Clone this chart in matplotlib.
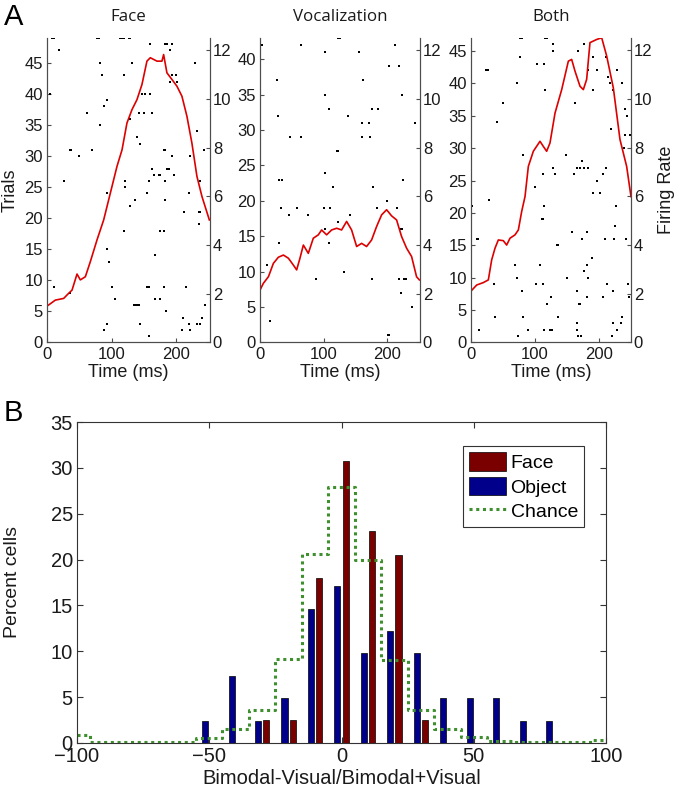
import matplotlib
matplotlib.use('Agg')
import matplotlib.pyplot as plt
import numpy as np

plt.rcParams['font.family'] = ['Liberation Sans', 'DejaVu Sans']

# ---------------- Panel A data ----------------
panel_titles = ['Face', 'Vocalization', 'Both']
n_trials = [49, 43, 47]
trial_ticks = [list(range(0, 50, 5)), list(range(0, 45, 5)), list(range(0, 50, 5))]
time_max = [252, 251, 250]

# firing rate curves (time ms, rate)
face_rate_t = [0, 2.5, 12.9, 25.8, 33.5, 38.7, 46.4, 51.5, 59.3, 67, 77.3, 87.6, 97.9, 108.2, 116,
               123.6, 131.4, 139.1, 146.8, 154.5, 159.7, 170, 177.7, 180.3, 185.4, 193.1, 200.9,
               208.6, 216.3, 224, 231.8, 239.5, 251]
face_rate = [1.5, 1.54, 1.74, 1.81, 2.02, 2.15, 2.81, 2.57, 2.7, 3.32, 4.21, 5.03, 6.13, 7.23, 7.91,
             9.01, 9.56, 9.97, 10.59, 11.55, 11.69, 11.55, 11.55, 11.82, 11.07, 10.8, 10.52,
             10.11, 9.29, 8.19, 6.82, 6.0, 5.03]

voc_rate_t = [0, 5.3, 13.2, 21, 28.8, 36.7, 44.5, 52.3, 57.5, 62.7, 68, 75.8, 83.6, 91.5, 96.7,
              104.5, 112.4, 120.2, 128, 135.9, 143.7, 151.6, 159.4, 167.2, 175.1, 182.9, 190.8,
              198.6, 206.4, 214.3, 222.1, 230, 237.8, 245.6, 250]
voc_rate = [2.15, 2.43, 2.7, 3.25, 3.5, 3.59, 3.46, 3.18, 2.98, 3.46, 4.0, 3.66, 4.28, 4.42, 4.62,
            4.42, 4.62, 4.69, 4.62, 4.97, 4.62, 3.94, 4.07, 3.94, 4.21, 4.76, 5.24,
            5.45, 5.2, 5.03, 4.35, 3.87, 3.53, 2.7, 2.57]

both_rate_t = [0, 8.9, 19.3, 27.1, 32.3, 37.5, 42.7, 50.5, 55.7, 60.9, 68.8, 74, 79.2, 84.4, 89.6,
               97.4, 107.8, 113, 118.2, 123.4, 131.3, 141.7, 152.1, 157.3, 162.5, 170.3, 175.5,
               180.7, 185.9, 196.4, 204.2, 212, 222.4, 232.8, 243.2, 250]
both_rate = [2.11, 2.36, 2.46, 2.57, 3.39, 3.87, 4.21, 4.18, 4.0, 4.28, 4.42, 4.62, 5.38, 5.99, 7.23,
             7.85, 8.26, 8.05, 7.85, 8.19, 9.42, 10.38, 11.55, 11.62, 11.14, 10.52, 10.38,
             10.8, 12.31, 12.44, 12.51, 11.76, 10.45, 8.33, 7.23, 5.99]

# spikes (time ms, trial)
face_spikes = [
    (7.7, 49), (10.3, 49), (77.2, 49), (79.8, 49), (113.4, 49), (116, 49), (119.6, 49), (126.2, 49), (128.8, 49),
    (159.7, 48), (183, 48), (185.6, 48), (193.1, 48), (18, 47), (190.7, 47),
    (82.4, 45), (131.4, 45), (229.2, 45), (85, 43), (118.5, 43), (193.1, 43), (199.8, 43),
    (190.7, 42), (201, 42), (5.1, 40), (146.8, 40), (152, 40), (159.7, 40), (92.7, 39), (87.6, 38),
    (61.8, 37), (141.6, 37), (149.4, 37), (162.3, 37), (128.8, 36), (82.4, 35), (231.8, 34),
    (139, 33), (144.2, 32), (36, 31), (37.5, 31), (69.5, 31), (180.3, 31), (183, 31), (242.1, 31),
    (49, 30), (193.1, 30), (221.5, 30), (162.3, 28), (185.4, 28), (188, 28),
    (164.8, 27), (172.6, 27), (175.1, 27), (195.7, 27), (25.7, 26), (121.1, 26), (157.1, 26), (183, 26), (237, 26),
    (121.1, 25), (92.7, 24), (154.5, 24), (219, 24), (136.5, 23), (183, 23), (128.8, 22),
    (211.2, 21), (234.4, 21), (236, 21), (234.4, 19), (118.5, 18), (175.1, 18), (180.3, 18),
    (92.7, 15), (167.4, 14), (95.3, 13), (100.4, 9), (154.5, 9), (157.1, 9), (180.3, 9), (214.9, 9),
    (11.3, 9), (36, 8), (104.4, 7), (167.4, 7), (175, 7), (134, 6), (136.5, 6), (139, 6), (141.6, 6),
    (244.6, 6), (184, 5), (210.2, 4), (239.5, 4), (92.7, 3), (144.2, 3), (219, 3), (231.8, 3), (237, 3),
    (87.6, 2), (208.6, 2), (221.5, 2), (157.1, 1),
]
voc_spikes = [
    (2.6, 42), (64.3, 42), (123, 43), (125, 43), (101.9, 41), (155.7, 41), (211.6, 42), (202.7, 39), (218.4, 39),
    (27.2, 37), (160.9, 37), (101.9, 35), (222, 35), (107.5, 33), (109, 33), (176, 33), (185.5, 33),
    (28.7, 32), (138.4, 32), (159.3, 31), (170.8, 31), (243, 31), (47, 29), (64.3, 29), (159.3, 29), (172.4, 29),
    (121.5, 27), (123, 27), (101.9, 24), (30.3, 23), (33.9, 23), (223.6, 23), (114.9, 22), (177.1, 22),
    (32.3, 19), (57.5, 19), (99.8, 19), (109.7, 19), (182.9, 19), (198.6, 20), (214.3, 19),
    (45.9, 18), (75.2, 18), (140.6, 18), (121.8, 17), (101.9, 16), (220.5, 16), (222.5, 16),
    (108.2, 14), (30.3, 14), (10.4, 11), (132.2, 10), (87.3, 9), (176, 9), (218.4, 9), (226.4, 9), (228.4, 9),
    (221.5, 7), (237.7, 5), (15.7, 3), (200.2, 1), (202.2, 1),
]
both_spikes = [
    (76.6, 47), (79, 47), (115.6, 47), (118.3, 47), (128.6, 46), (176.6, 46), (128.6, 45), (167.7, 45),
    (76.6, 44), (191.1, 44), (210.4, 44), (102.6, 43), (113.5, 43), (23.4, 42), (25.2, 42), (27.1, 42),
    (183.3, 42), (196.3, 42), (227.6, 42), (115.6, 39), (191.1, 39), (214.5, 41), (217.1, 40),
    (71.4, 40), (222.4, 39), (235.4, 40), (50.5, 37), (162.5, 37), (240.6, 36), (40.1, 34),
    (218.2, 33), (243.2, 35), (240.6, 32), (248.4, 32), (239.1, 30), (81.8, 29), (148.4, 29),
    (172.9, 28), (113, 26), (128.6, 27), (131.3, 26), (161.2, 26), (165.4, 27), (170.6, 27),
    (175.8, 27), (183.3, 27), (210.4, 27), (206.7, 26), (196.3, 25), (100, 24), (28.6, 22),
    (191.1, 23), (201.6, 23), (1, 21), (113.5, 21), (226.1, 21), (110.9, 19), (112.5, 19), (225, 18),
    (157.3, 17), (180.7, 17), (9.9, 16), (11.5, 16), (172.9, 16), (209.4, 16), (224, 16), (241.7, 16),
    (0.5, 14), (133.9, 15), (135.5, 15), (188.4, 13), (68.8, 12), (107.8, 12), (180.7, 12), (176.6, 11),
    (71.4, 10), (150.3, 10), (183.3, 10), (79.2, 8), (165.4, 8), (181.1, 7), (36, 9), (112, 9),
    (101.6, 9), (211.9, 9), (222.4, 8), (246, 9), (247, 7), (124.5, 7), (119.3, 6), (169, 6),
    (171, 6), (206.6, 7), (37.5, 4), (81.8, 4), (136.5, 4), (235.4, 4), (166.4, 3), (222.4, 3),
    (233.9, 3), (13, 2), (88.3, 2), (114.6, 2), (124, 2), (126, 2), (166.4, 2), (228.7, 2),
    (74.1, 1), (167.5, 1), (171.6, 1), (220, 1),
]

rate_t = [face_rate_t, voc_rate_t, both_rate_t]
rates = [face_rate, voc_rate, both_rate]
spikes = [face_spikes, voc_spikes, both_spikes]

# ---------------- Panel B data ----------------
bin_centers = [-50, -40, -30, -20, -10, 0, 10, 20, 30, 40, 50, 60, 70, 80]
face_pct = [0, 0, 2.56, 2.56, 17.95, 30.77, 23.08, 20.51, 2.56, 0, 0, 0, 0, 0]
object_pct = [2.44, 7.32, 2.44, 4.88, 14.63, 17.07, 9.76, 12.2, 9.76, 4.88, 4.88, 4.88, 2.44, 2.44]
chance_x = [-100, -90, -80, -70, -60, -50, -40, -30, -20, -10, 0, 10, 20, 30, 40, 50, 60, 70, 80, 90, 100]
chance_pct = [0.9, 0.1, 0.07, 0.07, 0.1, 0.55, 1.5, 3.6, 9.2, 20.6, 27.9, 20.0, 9.0, 3.6, 1.5, 0.6,
              0.25, 0.07, 0.07, 0.07, 0.3]

W, H = 677, 789
fig = plt.figure(figsize=(W / 100, H / 100), dpi=100)

def px_rect(left, top, right, bottom):
    return [left / W, 1 - bottom / H, (right - left) / W, (bottom - top) / H]

axis_col = '#4d4d4d'
text_col = '#1a1a1a'
lefts = [(47, 210), (260, 420), (471, 631)]

for i in range(3):
    ax = fig.add_axes(px_rect(lefts[i][0], 38, lefts[i][1], 342.5))
    st, str_ = zip(*spikes[i])
    ax.plot(st, str_, 's', ms=1.5, mew=0, color='k')
    ax.set_xlim(0, time_max[i])
    ax.set_ylim(0, n_trials[i])
    ax.set_yticks(trial_ticks[i])
    ax.set_xticks([0, 100, 200])
    ax.spines['top'].set_visible(False)
    for s in ax.spines.values():
        s.set_color(axis_col)
        s.set_linewidth(0.8)
    ax.tick_params(direction='in', length=3, labelsize=12, color=axis_col, labelcolor=text_col, pad=3)
    ax.set_xlabel('Time (ms)', fontsize=13, color=text_col, labelpad=2)
    ax.set_title(panel_titles[i], fontsize=12.2, family='Open Sans', color=text_col, pad=12)

    ax2 = ax.twinx()
    ax2.plot(rate_t[i], rates[i], color='#dd0000', lw=1.2)
    ax2.set_ylim(0, 12.5)
    ax2.set_yticks([0, 2, 4, 6, 8, 10, 12])
    ax2.spines['top'].set_visible(False)
    for s in ax2.spines.values():
        s.set_color(axis_col)
        s.set_linewidth(0.8)
    ax2.tick_params(direction='in', length=3, labelsize=12, color=axis_col, labelcolor=text_col, pad=2)
    if i == 0:
        ax.set_ylabel('Trials', fontsize=13, color=text_col, labelpad=4)
    if i == 2:
        ax2.set_ylabel('Firing Rate', fontsize=13, color=text_col, labelpad=4)

fig.text(14 / W, 1 - 17 / H, 'A', fontsize=21, ha='center', va='center', color='k')
fig.text(13 / W, 1 - 413 / H, 'B', fontsize=21, ha='center', va='center', color='k')

# ---------------- Panel B ----------------
axb = fig.add_axes(px_rect(77, 422, 606, 743))
bc = np.array(bin_centers)
h_face = axb.bar(bc + 1.55, face_pct, width=2.3, color='#7a0000', edgecolor='k', linewidth=0.5, label='Face')
h_obj = axb.bar(bc - 1.55, object_pct, width=2.3, color='#00008b', edgecolor='k', linewidth=0.5, label='Object')
h_ch, = axb.step(chance_x, chance_pct, where='mid', color='#3f8f2f', lw=2.2, linestyle=(0, (1, 1.2)),
                 label='Chance')
axb.set_xlim(-100, 100)
axb.set_ylim(0, 35)
axb.set_xticks([-100, -50, 0, 50, 100])
axb.set_yticks(range(0, 36, 5))
axb.tick_params(direction='in', length=4, labelsize=14.5, top=True, right=True,
                color='#333333', labelcolor=text_col, pad=3)
for s in axb.spines.values():
    s.set_color('#333333')
    s.set_linewidth(0.8)
axb.set_xlabel('Bimodal-Visual/Bimodal+Visual', fontsize=14.5, color=text_col, labelpad=2)
axb.set_ylabel('Percent cells', fontsize=14, color=text_col)
axb.yaxis.set_label_coords(-0.105, 0.5)
leg = axb.legend([h_face, h_obj, h_ch], ['Face', 'Object', 'Chance'],
                 loc='upper right', bbox_to_anchor=(0.958, 0.925), borderaxespad=0, fontsize=14,
                 handlelength=1.9, handleheight=1.1, labelspacing=0.25, borderpad=0.3,
                 handletextpad=0.25, fancybox=False, framealpha=1)
leg.get_frame().set_edgecolor('#333333')
leg.get_frame().set_linewidth(0.8)

fig.savefig('out.png', dpi=100)
